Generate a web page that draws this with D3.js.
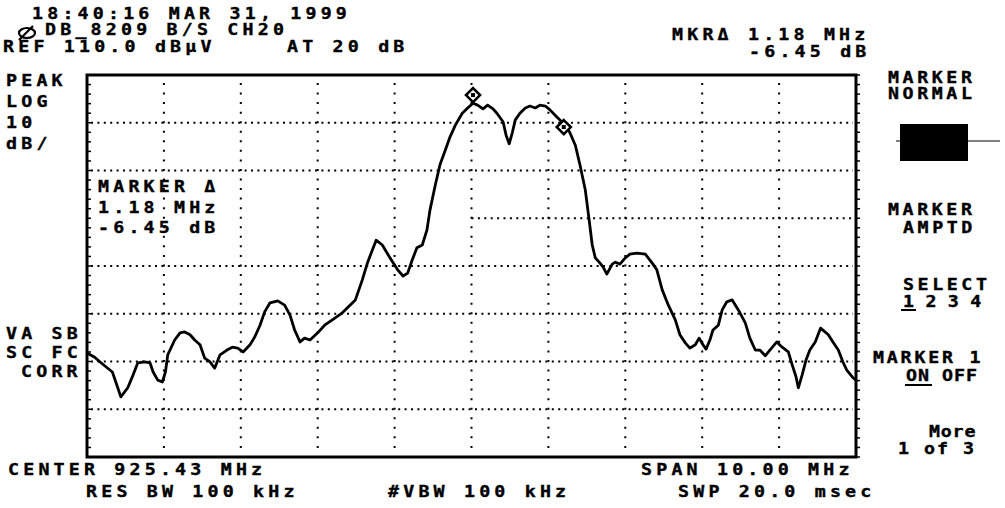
<!DOCTYPE html>
<html>
<head>
<meta charset="utf-8">
<script src="https://d3js.org/d3.v7.min.js"></script>
<style>
  body { margin: 0; background: #fff; }
  text { font-family: "DejaVu Sans Mono", monospace; font-weight: bold; fill: #000; stroke: #000; stroke-width: 0.35px; }
</style>
</head>
<body>
<svg id="screen"></svg>
<script>
// trace: frequency offset from centre (MHz) and level (dBuV)
var freqOffset = [-5.00, -4.90, -4.83, -4.67, -4.60, -4.56, -4.47, -4.40, -4.34, -4.25,
  -4.18, -4.14, -4.08, -4.02, -3.98, -3.95, -3.86, -3.79, -3.73, -3.66,
  -3.60, -3.53, -3.47, -3.40, -3.34, -3.27, -3.18, -3.11, -3.04, -2.97,
  -2.88, -2.82, -2.75, -2.69, -2.62, -2.52, -2.43, -2.36, -2.30, -2.23,
  -2.17, -2.10, -2.00, -1.91, -1.81, -1.68, -1.51, -1.42, -1.35, -1.24,
  -1.16, -1.06, -0.96, -0.89, -0.83, -0.77, -0.71, -0.64, -0.58, -0.54,
  -0.47, -0.41, -0.34, -0.28, -0.21, -0.12, -0.05, 0.02, 0.08, 0.15,
  0.21, 0.28, 0.33, 0.41, 0.45, 0.49, 0.53, 0.57, 0.63, 0.70,
  0.76, 0.83, 0.89, 0.96, 1.02, 1.11, 1.22, 1.28, 1.35, 1.41,
  1.48, 1.53, 1.57, 1.61, 1.66, 1.71, 1.76, 1.83, 1.87, 1.93,
  2.00, 2.06, 2.15, 2.26, 2.35, 2.41, 2.48, 2.56, 2.65, 2.71,
  2.78, 2.84, 2.91, 2.96, 3.01, 3.05, 3.10, 3.14, 3.21, 3.26,
  3.32, 3.39, 3.47, 3.56, 3.62, 3.69, 3.75, 3.82, 3.88, 3.97,
  4.04, 4.12, 4.17, 4.22, 4.25, 4.30, 4.35, 4.40, 4.47, 4.54,
  4.64, 4.70, 4.77, 4.83, 4.88, 4.96, 5.00];
var levelDb = [51.8, 50.9, 49.9, 47.8, 44.5, 42.6, 44.5, 47.2, 49.7, 49.9,
  49.7, 47.8, 46.1, 45.7, 47.8, 51.4, 54.5, 56.0, 56.2, 55.6,
  54.5, 53.5, 50.7, 49.9, 48.6, 51.4, 52.4, 53.0, 52.8, 52.0,
  53.5, 55.1, 57.6, 60.4, 62.3, 62.7, 61.8, 59.7, 56.6, 54.1,
  54.9, 54.5, 56.0, 57.6, 58.7, 60.2, 62.9, 67.1, 70.8, 75.4,
  74.4, 71.7, 69.2, 67.9, 68.5, 71.3, 73.8, 74.4, 77.5, 81.7,
  87.0, 91.2, 94.3, 97.0, 99.5, 102.0, 103.1, 104.1, 103.7, 102.9,
  103.7, 102.9, 102.0, 100.2, 97.4, 95.6, 97.9, 100.6, 102.0, 103.1,
  103.5, 103.1, 103.7, 103.5, 102.7, 101.2, 99.5, 97.9, 95.3, 91.2,
  85.9, 79.6, 74.4, 71.7, 70.8, 69.8, 68.3, 70.4, 70.8, 70.4,
  71.7, 72.5, 72.7, 72.5, 70.6, 69.2, 65.0, 61.8, 58.7, 55.6,
  53.9, 52.8, 53.5, 54.9, 53.5, 52.6, 54.5, 56.6, 57.6, 60.8,
  62.5, 62.9, 60.8, 58.1, 54.9, 52.4, 52.4, 51.2, 52.4, 54.1,
  53.0, 52.0, 49.3, 46.8, 44.5, 47.2, 50.3, 52.4, 54.1, 57.0,
  55.6, 54.1, 52.4, 49.9, 48.2, 46.6, 46.1];

// marker symbols (diamonds)
var markerFreq = [0.02, 1.20];
var markerLevel = [105.8, 99.1];

// graticule
var freqTicks = [-5, -4, -3, -2, -1, 0, 1, 2, 3, 4, 5];
var levelTicks = [30, 40, 50, 60, 70, 80, 90, 100, 110];

var width = 1005, height = 508;
var svg = d3.select("#screen").attr("width", width).attr("height", height);

var x = d3.scaleLinear().domain([-5, 5]).range([87, 856]);
var y = d3.scaleLinear().domain([30, 110]).range([457, 75]);

// horizontal dotted lines (the 80 dB one is hidden behind the marker readout on the left)
svg.append("g").selectAll("line")
  .data(levelTicks.slice(1, -1))
  .join("line")
  .attr("x1", function(d) { return d == 80 ? x(0) : x(-5) + 4; })
  .attr("x2", x(5) - 3)
  .attr("y1", function(d) { return y(d); })
  .attr("y2", function(d) { return y(d); })
  .attr("stroke", "#000")
  .attr("stroke-width", 2)
  .attr("stroke-dasharray", "2,4.4");

// vertical dotted lines
svg.append("g").selectAll("line")
  .data(freqTicks.slice(1, -1))
  .join("line")
  .attr("x1", function(d) { return x(d); })
  .attr("x2", function(d) { return x(d); })
  .attr("y1", y(110) + 8)
  .attr("y2", y(30) - 3)
  .attr("stroke", "#000")
  .attr("stroke-width", 2)
  .attr("stroke-dasharray", "2,7.55");

// small ticks on the frame
var subLevels = d3.range(30, 110.01, 2);
svg.append("g").selectAll("line")
  .data(subLevels)
  .join("line")
  .attr("x1", x(-5)).attr("x2", x(-5) + 4)
  .attr("y1", function(d) { return y(d); })
  .attr("y2", function(d) { return y(d); })
  .attr("stroke", "#000").attr("stroke-width", 1.5);
svg.append("g").selectAll("line")
  .data(subLevels)
  .join("line")
  .attr("x1", x(5)).attr("x2", x(5) + 4)
  .attr("y1", function(d) { return y(d); })
  .attr("y2", function(d) { return y(d); })
  .attr("stroke", "#000").attr("stroke-width", 1.5);

// frame
svg.append("rect")
  .attr("x", x(-5)).attr("y", y(110))
  .attr("width", x(5) - x(-5)).attr("height", y(30) - y(110))
  .attr("fill", "none").attr("stroke", "#000").attr("stroke-width", 3);

// trace
var pts = freqOffset.map(function(f, i) { return [f, levelDb[i]]; });
svg.append("path")
  .datum(pts)
  .attr("d", d3.line().x(function(d) { return x(d[0]); }).y(function(d) { return y(d[1]); }))
  .attr("fill", "none")
  .attr("stroke", "#000")
  .attr("stroke-width", 2.8)
  .attr("stroke-linejoin", "round");

// markers
markerFreq.forEach(function(f, i) {
  var cx = x(f), cy = y(markerLevel[i]);
  svg.append("path")
    .attr("d", "M" + cx + "," + (cy - 7) + "L" + (cx + 7) + "," + cy + "L" + cx + "," + (cy + 7) + "L" + (cx - 7) + "," + cy + "Z")
    .attr("fill", "#fff").attr("stroke", "#000").attr("stroke-width", 2.6);
  svg.append("rect").attr("x", cx - 2).attr("y", cy - 2).attr("width", 4).attr("height", 4).attr("fill", "#000");
});

// softkey highlight box
svg.append("rect").attr("x", 900).attr("y", 124).attr("width", 68).attr("height", 37).attr("fill", "#000");
svg.append("line").attr("x1", 896).attr("x2", 1000).attr("y1", 141).attr("y2", 141).attr("stroke", "#000").attr("stroke-width", 1);

// hp logo
svg.append("ellipse").attr("cx", 27).attr("cy", 33).attr("rx", 8).attr("ry", 5)
  .attr("fill", "none").attr("stroke", "#000").attr("stroke-width", 2.2);
svg.append("line").attr("x1", 19).attr("y1", 40).attr("x2", 33).attr("y2", 26)
  .attr("stroke", "#000").attr("stroke-width", 2.2);

// screen annotations: text, x, baseline, character pitch
var labels = [
  ["18:40:16 MAR 31, 1999", 32, 19, 15.2],
  ["DB_8209 B/S CH20", 45, 35, 15.2],
  ["REF 110.0 dB\u00b5V", 3, 52, 15.2],
  ["AT 20 dB", 287, 52, 15.2],
  ["MKR\u0394 1.18 MHz", 672, 40, 15.2],
  ["-6.45 dB", 749, 57, 15.2],
  ["PEAK", 6, 86, 15.2],
  ["LOG", 6, 107, 15.2],
  ["10", 6, 128, 15.2],
  ["dB/", 6, 149, 15.2],
  ["MARKER \u0394", 98, 192, 15.2],
  ["1.18 MHz", 98, 213, 15.2],
  ["-6.45 dB", 98, 233, 15.2],
  ["VA SB", 6, 339, 15.2],
  ["SC FC", 6, 358, 15.2],
  ["CORR", 21, 377, 15.2],
  ["CENTER 925.43 MHz", 8, 475, 15.2],
  ["SPAN 10.00 MHz", 641, 475, 15.2],
  ["RES BW 100 kHz", 86, 497, 15.2],
  ["#VBW 100 kHz", 388, 497, 15.2],
  ["SWP 20.0 msec", 678, 497, 15.2],
  ["MARKER", 888, 83, 14.6],
  ["NORMAL", 888, 99, 14.6],
  ["MARKER", 888, 215, 14.6],
  ["AMPTD", 903, 233, 14.6],
  ["SELECT", 903, 290, 14.6],
  ["1 2 3 4", 903, 307, 11.2],
  ["MARKER 1", 873, 363, 13.8],
  ["ON OFF", 906, 381, 12],
  ["More", 929, 437, 11.8],
  ["1 of 3", 898, 454, 13]
];
var sx = 1.22, fontSize = 15, advance = 0.602 * 15;
svg.append("g").selectAll("text")
  .data(labels)
  .join("text")
  .attr("transform", function(d) { return "translate(" + d[1] + "," + d[2] + ") scale(" + sx + ",1)"; })
  .attr("font-size", fontSize)
  .attr("letter-spacing", function(d) { return (d[3] / sx - advance) + "px"; })
  .text(function(d) { return d[0]; });

// underlines of active softkey choices
svg.append("line").attr("x1", 901).attr("x2", 916).attr("y1", 310).attr("y2", 310).attr("stroke", "#000").attr("stroke-width", 2);
svg.append("line").attr("x1", 905).attr("x2", 932).attr("y1", 385).attr("y2", 385).attr("stroke", "#000").attr("stroke-width", 2);
</script>
</body>
</html>
